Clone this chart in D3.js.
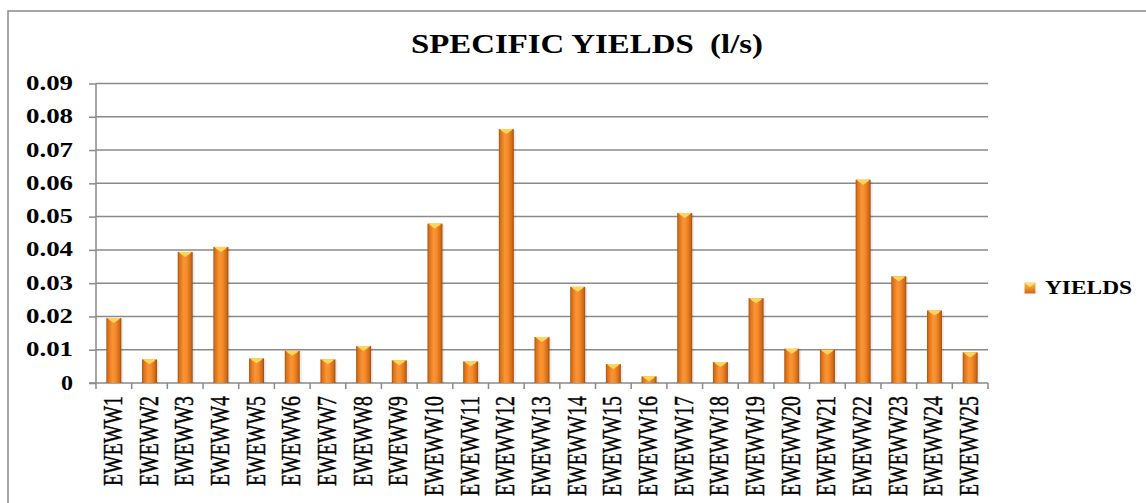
<!DOCTYPE html>
<meta charset="utf-8">
<style>
body { margin: 0; padding: 0; background: #fff; }
svg { display: block; }
.grid line { stroke: #8a8a8a; stroke-width: 1.5px; }
.axis path, .axis line { stroke: #8a8a8a; stroke-width: 1.5px; }
.ylab { font-family: "Liberation Serif", serif; font-weight: bold; font-size: 20px; fill: #000; }
.xlab { font-family: "Liberation Serif", serif; font-size: 20px; fill: #000; stroke: #000; stroke-width: 0.35px; }
.title { font-family: "Liberation Serif", serif; font-weight: bold; font-size: 28px; fill: #000; white-space: pre; }
.legend-text { font-family: "Liberation Serif", serif; font-weight: bold; font-size: 18px; fill: #000; }
</style>
<body>
<div id="chart"></div>
<script src="https://cdn.jsdelivr.net/npm/d3@7"></script>
<script>

// data
var wells = ["EWEWW1", "EWEWW2", "EWEWW3", "EWEWW4", "EWEWW5", "EWEWW6", "EWEWW7",
  "EWEWW8", "EWEWW9", "EWEWW10", "EWEWW11", "EWEWW12", "EWEWW13", "EWEWW14",
  "EWEWW15", "EWEWW16", "EWEWW17", "EWEWW18", "EWEWW19", "EWEWW20", "EWEWW21",
  "EWEWW22", "EWEWW23", "EWEWW24", "EWEWW25"];
var yields = [0.0195, 0.0071, 0.0394, 0.0409, 0.0074, 0.0097, 0.0071, 0.0111, 0.0068,
  0.0479, 0.0065, 0.0763, 0.0138, 0.0289, 0.0057, 0.0020, 0.0511, 0.0063, 0.0255,
  0.0103, 0.0100, 0.0611, 0.0321, 0.0218, 0.0092];
var yTicks = [0, 0.01, 0.02, 0.03, 0.04, 0.05, 0.06, 0.07, 0.08, 0.09];
var yTickLabels = ["0", "0.01", "0.02", "0.03", "0.04", "0.05", "0.06", "0.07", "0.08", "0.09"];
var seriesName = "YIELDS";
var titleText = "SPECIFIC YIELDS  (l/s)";

var W = 1146, H = 503;
var plotL = 96, plotR = 988, plotT = 83.5, plotB = 383;

var svg = d3.select("#chart").append("svg")
    .attr("width", W)
    .attr("height", H);

var defs = svg.append("defs");
var grad = defs.append("linearGradient").attr("id", "barGrad")
    .attr("x1", "0%").attr("x2", "100%").attr("y1", "0%").attr("y2", "0%");
[[0, "#a9520d"], [0.12, "#d9721a"], [0.4, "#fb9435"], [0.6, "#f68c2c"], [0.88, "#d06a15"], [1, "#9c4a0b"]]
  .forEach(function(s) { grad.append("stop").attr("offset", s[0]).attr("stop-color", s[1]); });

var swGrad = defs.append("linearGradient").attr("id", "swGrad")
    .attr("x1", "0%").attr("x2", "0%").attr("y1", "0%").attr("y2", "100%");
swGrad.append("stop").attr("offset", 0).attr("stop-color", "#ffc64a");
swGrad.append("stop").attr("offset", 1).attr("stop-color", "#d0661a");

// outer chart border (runs off the right and bottom of the picture)
svg.append("rect")
    .attr("x", 8).attr("y", 11)
    .attr("width", W).attr("height", H)
    .attr("fill", "none")
    .attr("stroke", "#8a8a8a")
    .attr("stroke-width", 1.5);

var x = d3.scaleBand().domain(wells).range([plotL, plotR]).paddingInner(0.58).paddingOuter(0.29);
var xb = d3.scaleBand().domain(wells).range([plotL, plotR]);
var y = d3.scaleLinear().domain([0, 0.09]).range([plotB, plotT]);

// gridlines
svg.append("g").attr("class", "grid")
  .selectAll("line").data(yTicks.slice(1)).enter().append("line")
    .attr("x1", plotL).attr("x2", plotR)
    .attr("y1", function(d) { return y(d); })
    .attr("y2", function(d) { return y(d); });

// y axis
var yAxis = svg.append("g").attr("class", "axis")
    .attr("transform", "translate(" + plotL + ",0)")
    .call(d3.axisLeft(y).tickValues(yTicks).tickSize(7).tickFormat(""));
yAxis.select(".domain").attr("d", "M0," + plotT + "V" + plotB);

svg.append("g").selectAll("text").data(yTicks).enter().append("text")
    .attr("class", "ylab")
    .attr("x", 73)
    .attr("y", function(d) { return y(d) + 6.5; })
    .attr("text-anchor", "end")
    .attr("textLength", function(d, i) { return yTickLabels[i].length === 1 ? 12 : 47; })
    .attr("lengthAdjust", "spacingAndGlyphs")
    .text(function(d, i) { return yTickLabels[i]; });

// x axis with ticks at band boundaries
var xAxis = svg.append("g").attr("class", "axis");
xAxis.append("line").attr("x1", plotL - 7).attr("x2", plotR).attr("y1", plotB).attr("y2", plotB);
xAxis.selectAll(".xt").data(wells).enter().append("line")
    .attr("class", "xt")
    .attr("x1", function(d) { return xb(d) + xb.bandwidth(); })
    .attr("x2", function(d) { return xb(d) + xb.bandwidth(); })
    .attr("y1", plotB).attr("y2", plotB + 6);
xAxis.append("line").attr("x1", plotL).attr("x2", plotL).attr("y1", plotB).attr("y2", plotB + 6);

// bars
var bars = svg.append("g").selectAll("g").data(yields).enter().append("g");
bars.append("rect")
    .attr("x", function(d, i) { return x(wells[i]) + 2; })
    .attr("y", function(d) { return y(d) + 1; })
    .attr("width", x.bandwidth())
    .attr("height", function(d) { return plotB - y(d) - 1; })
    .attr("fill", "#000").attr("opacity", 0.08);
bars.append("rect")
    .attr("x", function(d, i) { return x(wells[i]); })
    .attr("y", function(d) { return y(d); })
    .attr("width", x.bandwidth())
    .attr("height", function(d) { return plotB - y(d); })
    .attr("fill", "url(#barGrad)");
bars.append("polygon")
    .attr("points", function(d, i) {
      var x0 = x(wells[i]), x1 = x0 + x.bandwidth(), t = y(d), c = (x0 + x1) / 2;
      return [[x0 + 1, t], [x1 - 1, t], [x1 - 3, t + 2], [c, t + 5], [x0 + 3, t + 2]].join(" ");
    })
    .attr("fill", "#ffd659");

// x labels, rotated
svg.append("g").selectAll("text").data(wells).enter().append("text")
    .attr("class", "xlab")
    .attr("text-anchor", "end")
    .attr("transform", function(d) {
      return "translate(" + (xb(d) + xb.bandwidth() / 2 + 8) + "," + 396 + ") scale(1.35,1) rotate(-90)";
    })
    .attr("textLength", function(d) { return d.length > 6 ? 100 : 90; })
    .attr("lengthAdjust", "spacingAndGlyphs")
    .text(function(d) { return d; });

// title
svg.append("text")
    .attr("class", "title")
    .attr("x", 411).attr("y", 52.5)
    .attr("textLength", 352)
    .attr("lengthAdjust", "spacingAndGlyphs")
    .text(titleText);

// legend
svg.append("rect")
    .attr("x", 1024.5).attr("y", 282.5)
    .attr("width", 11).attr("height", 11)
    .attr("fill", "url(#swGrad)");
svg.append("polygon")
    .attr("points", "1025,283 1035,283 1030,287")
    .attr("fill", "#ffe07a");
svg.append("text")
    .attr("class", "legend-text")
    .attr("x", 1045).attr("y", 294)
    .attr("textLength", 87)
    .attr("lengthAdjust", "spacingAndGlyphs")
    .text(seriesName);

</script>
</body>
